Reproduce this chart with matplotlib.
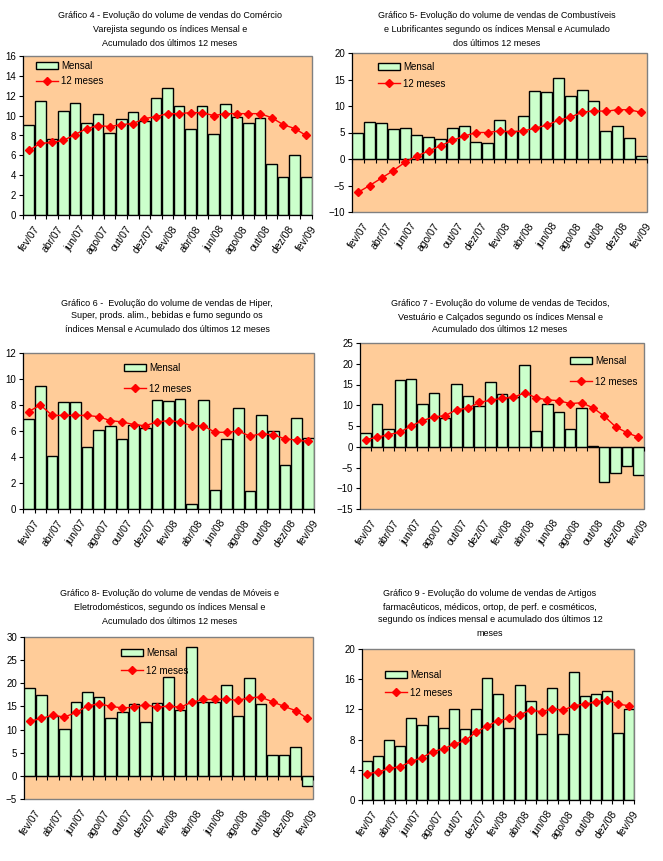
import matplotlib
matplotlib.use("Agg")
import matplotlib.pyplot as plt
from matplotlib.lines import Line2D
from matplotlib.patches import Patch
import numpy as np

plt.rcParams['font.family'] = ['Liberation Sans', 'DejaVu Sans']

meses = ["fev/07", "mar/07", "abr/07", "mai/07", "jun/07", "jul/07", "ago/07",
         "set/07", "out/07", "nov/07", "dez/07", "jan/08", "fev/08", "mar/08",
         "abr/08", "mai/08", "jun/08", "jul/08", "ago/08", "set/08", "out/08",
         "nov/08", "dez/08", "jan/09", "fev/09"]

# Gráfico 4 - Comércio varejista
titulo4 = ["Gráfico 4 - Evolução do volume de vendas do Comércio",
           "Varejista segundo os índices Mensal e",
           "Acumulado dos últimos 12 meses"]
mensal4 = [9.1, 11.5, 7.6, 10.5, 11.3, 9.3, 10.2, 8.3, 9.7, 10.4, 9.5, 11.8, 12.8,
           11.0, 8.7, 11.0, 8.2, 11.2, 9.9, 9.3, 9.8, 5.1, 3.8, 6.0, 3.8]
acum4 = [6.5, 7.2, 7.3, 7.5, 8.1, 8.7, 9.0, 8.9, 9.1, 9.2, 9.7, 9.9, 10.2,
         10.2, 10.3, 10.3, 10.0, 10.2, 10.2, 10.2, 10.2, 9.8, 9.1, 8.7, 8.0]

# Gráfico 5 - Combustíveis e lubrificantes
titulo5 = ["Gráfico 5- Evolução do volume de vendas de Combustíveis",
           "e Lubrificantes segundo os índices Mensal e Acumulado",
           "dos últimos 12 meses"]
mensal5 = [5.0, 6.9, 6.7, 5.6, 5.8, 4.6, 4.1, 3.7, 5.8, 6.3, 3.3, 3.1, 7.3,
           5.2, 8.2, 12.8, 12.6, 15.2, 11.8, 13.0, 10.9, 5.2, 6.3, 3.9, 0.5]
acum5 = [-6.3, -5.0, -3.6, -2.2, -0.6, 0.6, 1.5, 2.5, 3.5, 4.3, 5.0, 5.0, 5.3,
         5.1, 5.3, 5.8, 6.4, 7.3, 7.9, 8.8, 9.1, 9.0, 9.3, 9.3, 8.8]

# Gráfico 6 - Hiper, supermercados
titulo6 = ["Gráfico 6 -  Evolução do volume de vendas de Hiper,",
           "Super, prods. alim., bebidas e fumo segundo os",
           "índices Mensal e Acumulado dos últimos 12 meses"]
mensal6 = [6.9, 9.5, 4.1, 8.2, 8.2, 4.8, 6.1, 6.4, 5.4, 6.5, 6.2, 8.4, 8.3,
           8.5, 0.4, 8.4, 1.5, 5.4, 7.8, 1.4, 7.2, 6.0, 3.4, 7.0, 5.5]
acum6 = [7.5, 8.0, 7.2, 7.2, 7.2, 7.2, 7.1, 6.8, 6.7, 6.5, 6.4, 6.7, 6.8,
         6.7, 6.4, 6.4, 5.9, 5.9, 6.0, 5.6, 5.8, 5.7, 5.4, 5.3, 5.2]

# Gráfico 7 - Tecidos, vestuário e calçados
titulo7 = ["Gráfico 7 - Evolução do volume de vendas de Tecidos,",
           "Vestuário e Calçados segundo os índices Mensal e",
           "Acumulado dos últimos 12 meses"]
mensal7 = [3.3, 10.2, 4.3, 16.1, 16.4, 10.4, 13.0, 7.0, 15.2, 12.3, 9.7, 15.5, 12.6,
           12.0, 19.8, 3.8, 10.4, 8.4, 4.3, 9.4, 0.2, -8.6, -6.4, -4.7, -6.9]
acum7 = [1.7, 2.3, 2.9, 3.5, 5.0, 6.3, 7.2, 7.5, 8.9, 9.3, 10.7, 11.2, 11.7,
         11.9, 13.0, 11.8, 11.3, 11.1, 10.4, 10.6, 9.4, 7.4, 4.8, 3.4, 2.3]

# Gráfico 8 - Móveis e eletrodomésticos
titulo8 = ["Gráfico 8- Evolução do volume de vendas de Móveis e",
           "Eletrodomésticos, segundo os índices Mensal e",
           "Acumulado dos últimos 12 meses"]
mensal8 = [19.0, 17.5, 13.0, 10.2, 16.0, 18.2, 17.1, 12.6, 13.9, 15.6, 11.7, 15.8, 21.3,
           14.3, 27.8, 16.0, 16.0, 19.7, 13.0, 21.2, 15.6, 4.5, 4.5, 6.2, -2.2]
acum8 = [11.8, 12.4, 13.1, 12.7, 13.7, 15.1, 15.6, 15.0, 14.7, 14.8, 15.4, 14.8, 15.1,
         14.8, 15.9, 16.5, 16.5, 16.6, 16.3, 16.9, 17.0, 16.0, 15.0, 14.1, 12.4]

# Gráfico 9 - Artigos farmacêuticos
titulo9 = ["Gráfico 9 - Evolução do volume de vendas de Artigos",
           "farmacêuticos, médicos, ortop, de perf. e cosméticos,",
           "segundo os índices mensal e acumulado dos últimos 12",
           "meses"]
mensal9 = [5.1, 5.8, 8.0, 7.2, 10.9, 9.9, 11.1, 9.5, 12.1, 9.4, 12.1, 16.2, 14.0,
           9.6, 15.2, 13.1, 8.7, 14.9, 8.7, 17.0, 13.8, 14.1, 14.4, 8.9, 12.0]
acum9 = [3.5, 3.7, 4.2, 4.4, 5.1, 5.6, 6.4, 6.8, 7.4, 7.9, 9.0, 9.8, 10.5,
         10.8, 11.3, 11.9, 11.7, 12.1, 11.9, 12.5, 12.7, 13.0, 13.3, 12.7, 12.5]

W, H = 663, 861
fig = plt.figure(figsize=(W / 100, H / 100), dpi=100)
fig.patch.set_facecolor("white")

BG = "#FFCC99"
VERDE = "#CCFFCC"


def px_axes(l, t, r, b):
    return fig.add_axes([l / W, 1 - b / H, (r - l) / W, (b - t) / H])


def titulo(linhas, xc, ys):
    for txt, y in zip(linhas, ys):
        fig.text(xc / W, 1 - y / H, txt, ha="center", va="center", fontsize=6.5)


def grafico(ax, mensal, acum, yticks, leg_xy, leg_gap):
    x = np.arange(len(mensal))
    ax.set_facecolor(BG)
    ax.patch.set_edgecolor("#808080")
    ax.patch.set_linewidth(1)
    ax.bar(x, mensal, width=0.92, color=VERDE, edgecolor="black", linewidth=1, zorder=2)
    ax.plot(x, acum, color="red", lw=1, marker="D", ms=4.5, zorder=3)
    ax.set_xlim(-0.5, len(x) - 0.5)
    ax.set_ylim(yticks[0], yticks[-1])
    ax.set_yticks(yticks)
    ax.tick_params(axis="y", direction="out", length=3, labelsize=7, pad=2)
    for s in ("top", "right"):
        ax.spines[s].set_visible(False)
    ax.spines["left"].set_color("black")
    ax.spines["bottom"].set_position(("data", 0))
    ax.set_xticks(np.arange(-0.5, len(x), 1.0))
    ax.set_xticklabels([])
    ax.tick_params(axis="x", direction="out", length=3)
    hpx = ax.get_position().height * H
    tr = ax.get_xaxis_transform()
    for i in range(0, len(x), 2):
        ax.text(i + 0.4, -9 / hpx, meses[i], transform=tr, rotation=55,
                ha="right", va="top", rotation_mode="anchor", fontsize=7.5)
    handles = [Patch(facecolor=VERDE, edgecolor="black", label="Mensal"),
               Line2D([], [], color="red", lw=1, marker="D", ms=4.5, label="12 meses")]
    ax.legend(handles=handles, loc="upper left", bbox_to_anchor=leg_xy,
              frameon=False, fontsize=7, handlelength=2.3, handleheight=0.7,
              labelspacing=leg_gap, handletextpad=0.3, borderaxespad=0, borderpad=0)


ax4 = px_axes(23, 56, 312, 215)
grafico(ax4, mensal4, acum4, [0, 2, 4, 6, 8, 10, 12, 14, 16], (0.045, 0.968), 0.5)
titulo(titulo4, 170, [15, 30, 44])

ax5 = px_axes(352, 53, 647, 212)
grafico(ax5, mensal5, acum5, [-10, -5, 0, 5, 10, 15, 20], (0.088, 0.943), 0.7)
titulo(titulo5, 497, [15, 30, 44])

ax6 = px_axes(23, 353, 314, 509)
grafico(ax6, mensal6, acum6, [0, 2, 4, 6, 8, 10, 12], (0.347, 0.936), 1.1)
titulo(titulo6, 167, [303, 316, 330])

ax7 = px_axes(360, 343, 644, 509)
grafico(ax7, mensal7, acum7, [-15, -10, -5, 0, 5, 10, 15, 20, 25], (0.739, 0.922), 1.1)
titulo(titulo7, 500, [303, 317, 330])

ax8 = px_axes(24, 637, 313, 799)
grafico(ax8, mensal8, acum8, [-5, 0, 5, 10, 15, 20, 25, 30], (0.336, 0.932), 0.8)
titulo(titulo8, 170, [593, 607, 621])

ax9 = px_axes(362, 649, 634, 800)
grafico(ax9, mensal9, acum9, [0, 4, 8, 12, 16, 20], (0.085, 0.861), 0.8)
titulo(titulo9, 490, [593, 607, 620, 634])

fig.savefig("out.png", dpi=100)
